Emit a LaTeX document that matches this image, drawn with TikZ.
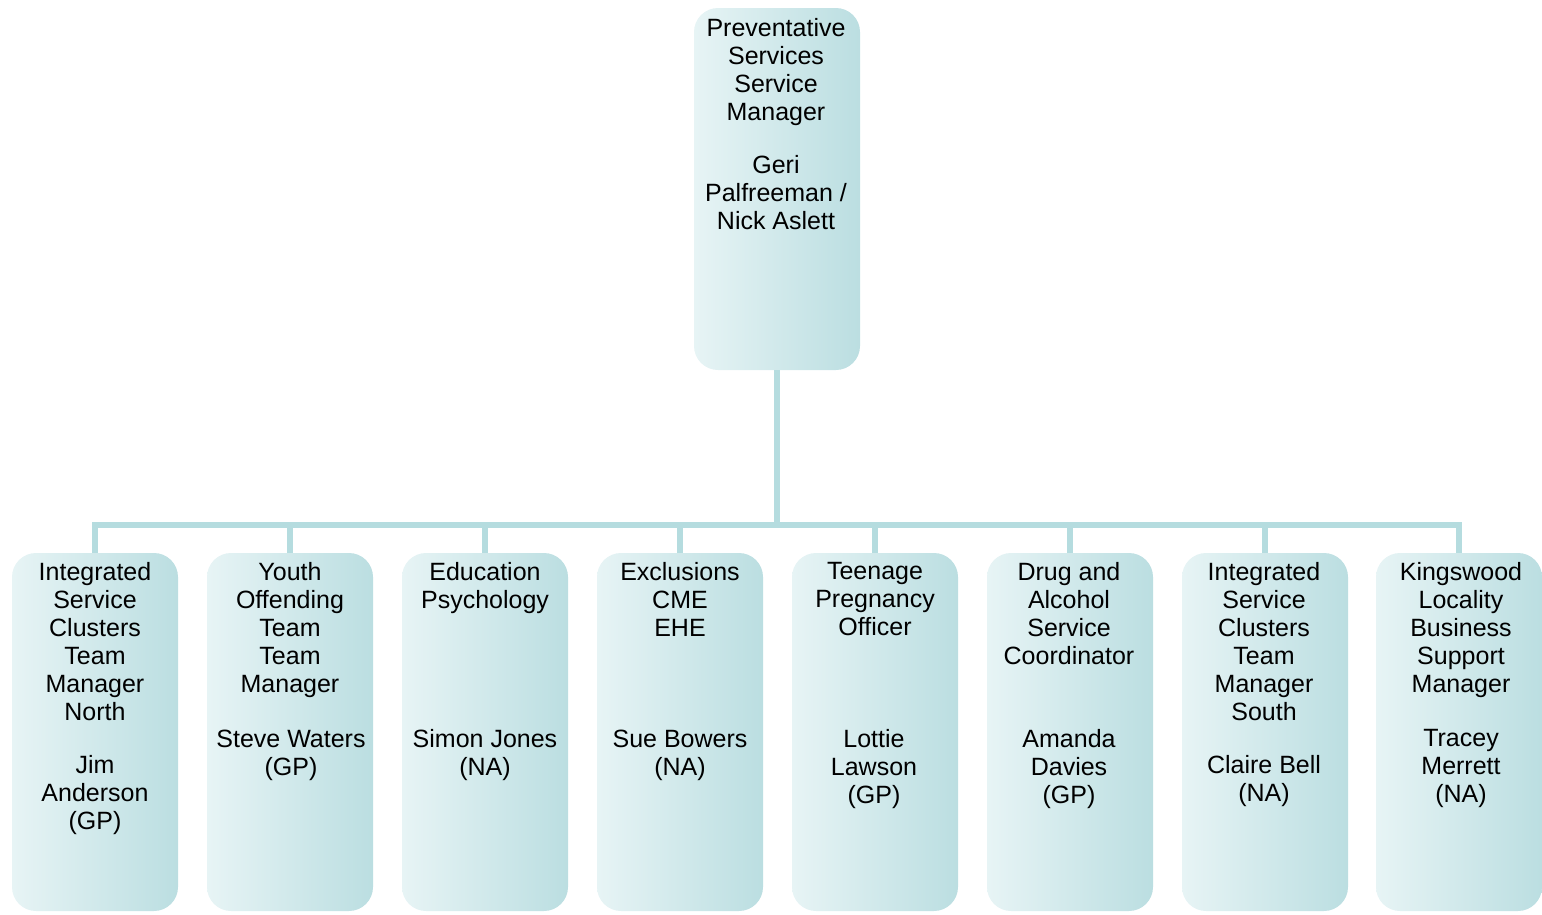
\documentclass[tikz,border=0pt]{standalone}
\usepackage{fontspec}
\setmainfont{Liberation Sans}
\definecolor{boxL}{HTML}{E7F4F5}
\definecolor{boxR}{HTML}{BBDEE1}
\definecolor{conn}{HTML}{B5DCDF}
\begin{document}
\begin{tikzpicture}[x=1pt,y=-1pt,
  box/.style={rounded corners=24pt, left color=boxL, right color=boxR, minimum width=166pt, inner sep=0pt, draw=none},
  topbox/.style={box, minimum height=362pt},
  botbox/.style={box, minimum height=358pt},
  lbl/.style={anchor=north, align=center, inner sep=0pt, font=\fontsize{25}{28}\selectfont, execute at begin node=\vphantom{Ndlg}},
  link/.style={draw=conn, line width=6pt}]
\useasboundingbox (0,0) rectangle (1542,914);
% boxes
\node[topbox] (top) at (777,189) {};
\node[botbox] (b1) at (95,732) {};
\node[botbox] (b2) at (290,732) {};
\node[botbox] (b3) at (485,732) {};
\node[botbox] (b4) at (680,732) {};
\node[botbox] (b5) at (875,732) {};
\node[botbox] (b6) at (1070,732) {};
\node[botbox] (b7) at (1265,732) {};
\node[botbox] (b8) at (1459,732) {};
% connectors
\coordinate (hub) at (777,525);
\draw[link] (top.south) -- (hub);
\foreach \b in {b1,b2,b3,b4,b5,b6,b7,b8}{
  \draw[link] (hub) -| (\b.north);
}
% texts
\node[lbl] (topT) at (776,18.5) {Preventative\\Services\\Service\\Manager};
\node[lbl] (topN) at (776,155.5) {Geri\\Palfreeman /\\Nick Aslett};
\node[lbl] (t1) at (95,562.5) {Integrated\\Service\\Clusters\\Team\\Manager\\North};
\node[lbl] (n1) at (95,755.5) {Jim\\Anderson\\(GP)};
\node[lbl] (t2) at (290,562.5) {Youth\\Offending\\Team\\Team\\Manager};
\node[lbl] (n2) at (291,729.5) {Steve Waters\\(GP)};
\node[lbl] (t3) at (485,562.5) {Education\\Psychology};
\node[lbl] (n3) at (485,729.5) {Simon Jones\\(NA)};
\node[lbl] (t4) at (680,562.5) {Exclusions\\CME\\EHE};
\node[lbl] (n4) at (680,729.5) {Sue Bowers\\(NA)};
\node[lbl] (t5) at (875,562.5) {Teenage\\Pregnancy\\Officer};
\node[lbl] (n5) at (874,729.5) {Lottie\\Lawson\\(GP)};
\node[lbl] (t6) at (1069,562.5) {Drug and\\Alcohol\\Service\\Coordinator};
\node[lbl] (n6) at (1069,729.5) {Amanda\\Davies\\(GP)};
\node[lbl] (t7) at (1264,562.5) {Integrated\\Service\\Clusters\\Team\\Manager\\South};
\node[lbl] (n7) at (1264,755.5) {Claire Bell\\(NA)};
\node[lbl] (t8) at (1461,562.5) {Kingswood\\Locality\\Business\\Support\\Manager};
\node[lbl] (n8) at (1461,729.5) {Tracey\\Merrett\\(NA)};
\end{tikzpicture}
\end{document}
